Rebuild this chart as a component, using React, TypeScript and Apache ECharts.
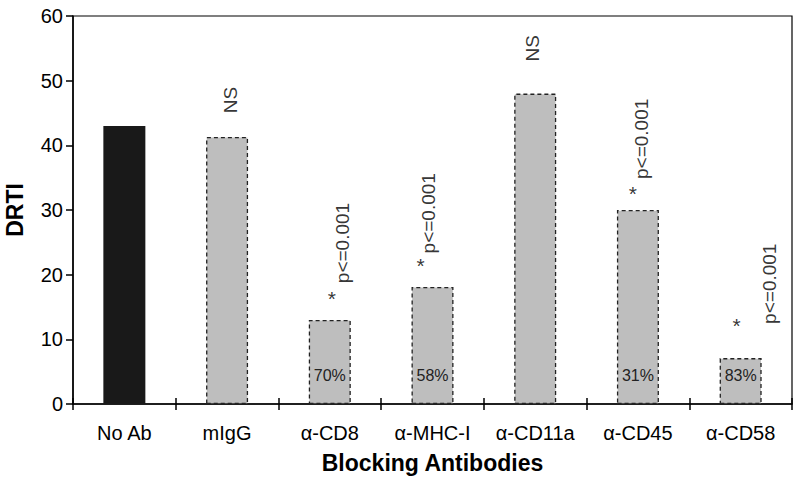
import React, { useEffect, useRef } from "react";
import * as echarts from "echarts";

const categories = ["No Ab", "mIgG", "α-CD8", "α-MHC-I", "α-CD11a", "α-CD45", "α-CD58"];
const drtiValues = [43, 41.3, 13, 18.1, 48, 30, 7.1];
const percentLabels = ["", "", "70%", "58%", "", "31%", "83%"];
const yTicks = [0, 10, 20, 30, 40, 50, 60];

// annotations: [category index, value, text]
const nsNotes: [number, number, string][] = [
  [1, 47, "NS"],
  [4, 55, "NS"],
];
const starNotes: [number, number][] = [
  [2, 16.9],
  [3, 22.0],
  [5, 33.1],
  [6, 12.7],
];
const pNotes: [number, number, string][] = [
  [2, 24.9, "p<=0.001"],
  [3, 29.5, "p<=0.001"],
  [5, 41.0, "p<=0.001"],
  [6, 18.6, "p<=0.001"],
];

const FONT = "Liberation Sans, Arial, Helvetica, sans-serif";
const starOffsetX = [0, 0, 2, -12, 0, -5, -4];
const pOffsetX = [0, 0, 13, -4, 0, 4, 29];
const nsOffsetX = [0, 3, 0, 0, -3, 0, 0];

export default function App() {
  const ref = useRef<HTMLDivElement>(null);
  useEffect(() => {
    if (!ref.current) return;
    const chart = echarts.init(ref.current, undefined, { renderer: "svg" });
    chart.setOption({
      animation: false,
      backgroundColor: "#ffffff",
      grid: {
        left: 73,
        right: 8,
        top: 16,
        bottom: 79,
        outerBoundsMode: "none",
        containLabel: false,
        show: true,
        borderColor: "#000",
        borderWidth: 1.2,
        backgroundColor: "transparent",
      },
      xAxis: [
        {
          type: "category",
          data: categories,
          boundaryGap: true,
          axisLine: { lineStyle: { color: "#000", width: 1.5 } },
          axisTick: { show: true, inside: false, length: 6, alignWithLabel: false, lineStyle: { color: "#000", width: 1.5 } },
          axisLabel: { fontSize: 20, color: "#000", margin: 19, fontFamily: FONT, interval: 0 },
          name: "Blocking Antibodies",
          nameLocation: "middle",
          nameGap: 47,
          nameTextStyle: { fontSize: 23, fontWeight: "bold", color: "#000", fontFamily: FONT },
        },
        {
          type: "category",
          data: categories,
          position: "bottom",
          boundaryGap: true,
          axisLine: { show: false },
          axisTick: { show: true, inside: true, length: 6, alignWithLabel: false, lineStyle: { color: "#000", width: 1.5 } },
          axisLabel: { show: false },
        },
      ],
      yAxis: {
        type: "value",
        min: yTicks[0],
        max: yTicks[yTicks.length - 1],
        interval: 10,
        splitLine: { show: false },
        axisLine: { show: true, lineStyle: { color: "#000", width: 1.5 } },
        axisTick: { show: true, inside: false, length: 7, lineStyle: { color: "#000", width: 1.5 } },
        axisLabel: { fontSize: 20, color: "#000", margin: 10, fontFamily: FONT },
        name: "DRTI",
        nameLocation: "middle",
        nameGap: 47,
        nameTextStyle: { fontSize: 23, fontWeight: "bold", color: "#000", fontFamily: FONT },
      },
      series: [
        {
          type: "bar",
          barWidth: 42,
          data: drtiValues.map((v, i) => ({
            value: v,
            itemStyle:
              i === 0
                ? { color: "#191919", borderWidth: 0 }
                : { color: "#bebebe", borderColor: "#222", borderWidth: 1.3, borderType: [4, 3] },
            label: {
              show: percentLabels[i] !== "",
              formatter: percentLabels[i],
              position: "insideBottom",
              distance: 21,
              fontSize: 16,
              color: "#222",
              fontFamily: FONT,
            },
          })),
        },
        {
          type: "scatter",
          symbolSize: 0,
          silent: true,
          data: nsNotes.map(([c, v, t]) => ({
            value: [categories[c], v],
            label: {
              show: true,
              formatter: t,
              position: "inside",
              rotate: 90,
              offset: [0, nsOffsetX[c]],
              fontSize: 19,
              color: "#000",
              fontFamily: FONT,
            },
          })),
        },
        {
          type: "scatter",
          symbolSize: 0,
          silent: true,
          data: pNotes.map(([c, v, t]) => ({
            value: [categories[c], v],
            label: {
              show: true,
              formatter: t,
              position: "inside",
              rotate: 90,
              offset: [0, pOffsetX[c]],
              fontSize: 19,
              color: "#000",
              fontFamily: FONT,
            },
          })),
        },
        {
          type: "scatter",
          symbolSize: 0,
          silent: true,
          data: starNotes.map(([c, v]) => ({
            value: [categories[c], v],
            label: {
              show: true,
              formatter: "*",
              position: "inside",
              offset: [starOffsetX[c], 4],
              fontSize: 21,
              color: "#000",
              fontFamily: FONT,
            },
          })),
        },
      ],
    });
    return () => chart.dispose();
  }, []);
  return (
    <div
      ref={ref}
      style={{ position: "fixed", left: 0, top: 0, width: 800, height: 483, background: "#fff" }}
    />
  );
}
